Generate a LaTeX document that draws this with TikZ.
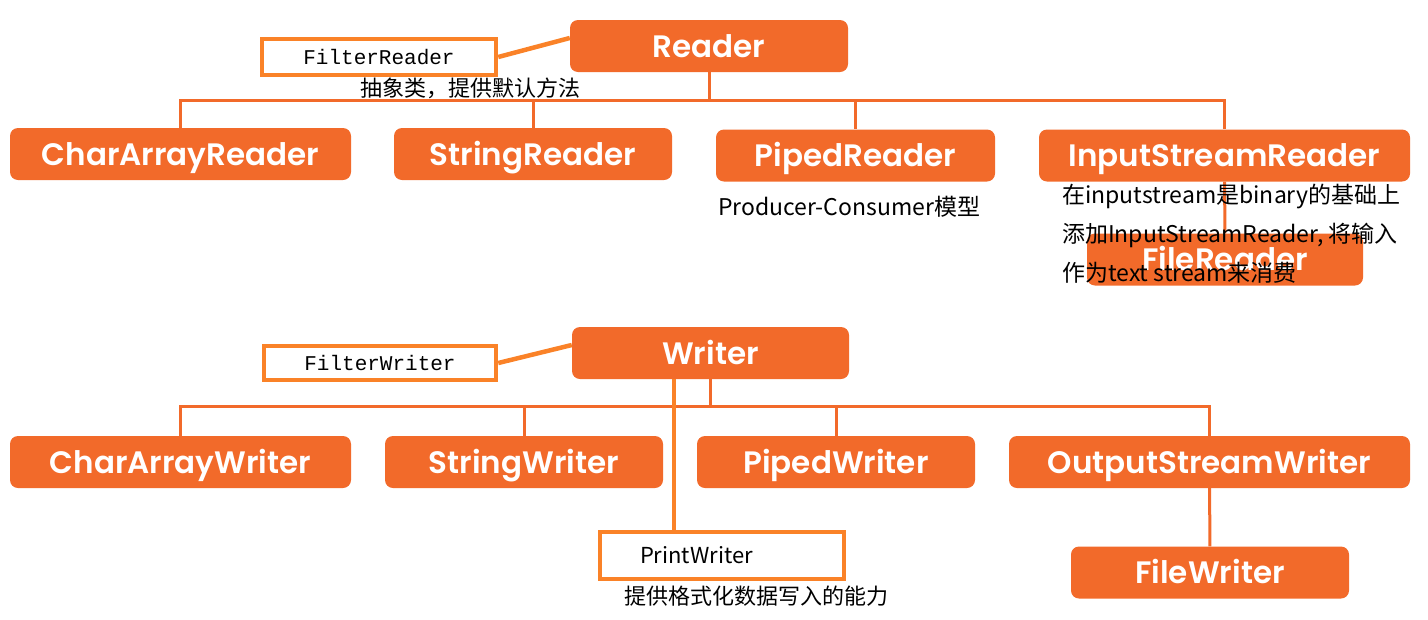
\documentclass[tikz,border=0pt]{standalone}
\usepackage{fontspec}
\setmainfont{Noto Sans CJK SC}
\newfontfamily\boxfont{Poppins SemiBold}
\newfontfamily\codefont{Liberation Mono}
\usetikzlibrary{positioning}
\definecolor{boxorange}{RGB}{242,106,42}
\definecolor{noteorange}{RGB}{250,130,40}

\tikzset{
  classbox/.style={fill=boxorange, rounded corners=8pt, minimum height=52pt, inner sep=0pt,
    text height=24pt, text depth=2pt, text=white, font=\boxfont\fontsize{31}{36}\selectfont},
  notebox/.style={draw=noteorange, line width=4.5pt, fill=white, inner sep=0pt,
    font=\codefont\fontsize{21}{24}\selectfont},
  link/.style={draw=boxorange, line width=3pt},
  notelink/.style={draw=noteorange, line width=4.5pt},
  notetext/.style={font=\fontsize{22}{39}\selectfont, inner sep=0pt, anchor=west, align=left}
}

\begin{document}
\begin{tikzpicture}[x=1pt,y=-1pt]
  \useasboundingbox (0,0) rectangle (1428,619);

  % Reader
  \node[classbox, minimum width=278pt] (reader) at (709,46) {Reader};
  \node[classbox, minimum width=341pt] (charR) at (180.5,154) {CharArrayReader};
  \node[classbox, minimum width=278pt] (stringR) at (533,154) {StringReader};
  \node[classbox, minimum width=279pt] (pipedR) at (855.5,155.5) {PipedReader};
  \node[classbox, minimum width=371pt] (inputR) at (1224.5,155.5) {InputStreamReader};
  \node[classbox, minimum width=276pt] (fileR) at (1225,259.5) {FileReader};

  \draw[link] (reader.south) -- ++(0,28) coordinate (busR);
  \foreach \n in {charR,stringR,pipedR,inputR}
    \draw[link] (busR) -| (\n.north);
  \draw[link] (inputR) -- (fileR);

  \node[notebox, minimum width=234pt, minimum height=36pt] (filterR) at (379,57) {FilterReader};
  \draw[notelink] (filterR.east) -- ([yshift=8pt]reader.west);

  \node[notetext] (abstractNote) at (360,88) {抽象类，提供默认方法};
  \node[notetext, font=\fontsize{23}{39}\selectfont] (pipeNote) at (718,207) {Producer-Consumer模型};
  \node[notetext, font=\fontsize{23}{39}\selectfont] (inputNote) at (1062,234) {在inputstream是binary的基础上\\添加InputStreamReader, 将输入\\作为text stream来消费};

  % Writer
  \node[classbox, minimum width=277pt] (writer) at (710.5,353) {Writer};
  \node[classbox, minimum width=341pt] (charW) at (180.5,462) {CharArrayWriter};
  \node[classbox, minimum width=278pt] (stringW) at (524,462) {StringWriter};
  \node[classbox, minimum width=278pt] (pipedW) at (836,462) {PipedWriter};
  \node[classbox, minimum width=401pt] (outW) at (1209.5,462) {OutputStreamWriter};
  \node[classbox, minimum width=278pt] (fileW) at (1210,572.5) {FileWriter};

  \draw[link] (writer.south) -- ++(0,27) coordinate (busW);
  \foreach \n in {charW,stringW,pipedW,outW}
    \draw[link] (busW) -| (\n.north);
  \draw[link] (outW) -- (fileW);

  \node[notebox, minimum width=232pt, minimum height=34pt] (filterW) at (380,363) {FilterWriter};
  \draw[notelink] (filterW.east) -- ([yshift=8pt]writer.west);

  \node[notebox, minimum width=244pt, minimum height=47pt, text width=164pt, inner xsep=40pt,
    align=left, font=\fontsize{22}{26}\selectfont] (printW) at (722,555.5) {PrintWriter};
  \coordinate (printTap) at (674,0);
  \draw[notelink] (writer.south -| printTap) -- (printW.north -| printTap);
  \node[notetext] (printNote) at (624,596) {提供格式化数据写入的能力};
\end{tikzpicture}
\end{document}
